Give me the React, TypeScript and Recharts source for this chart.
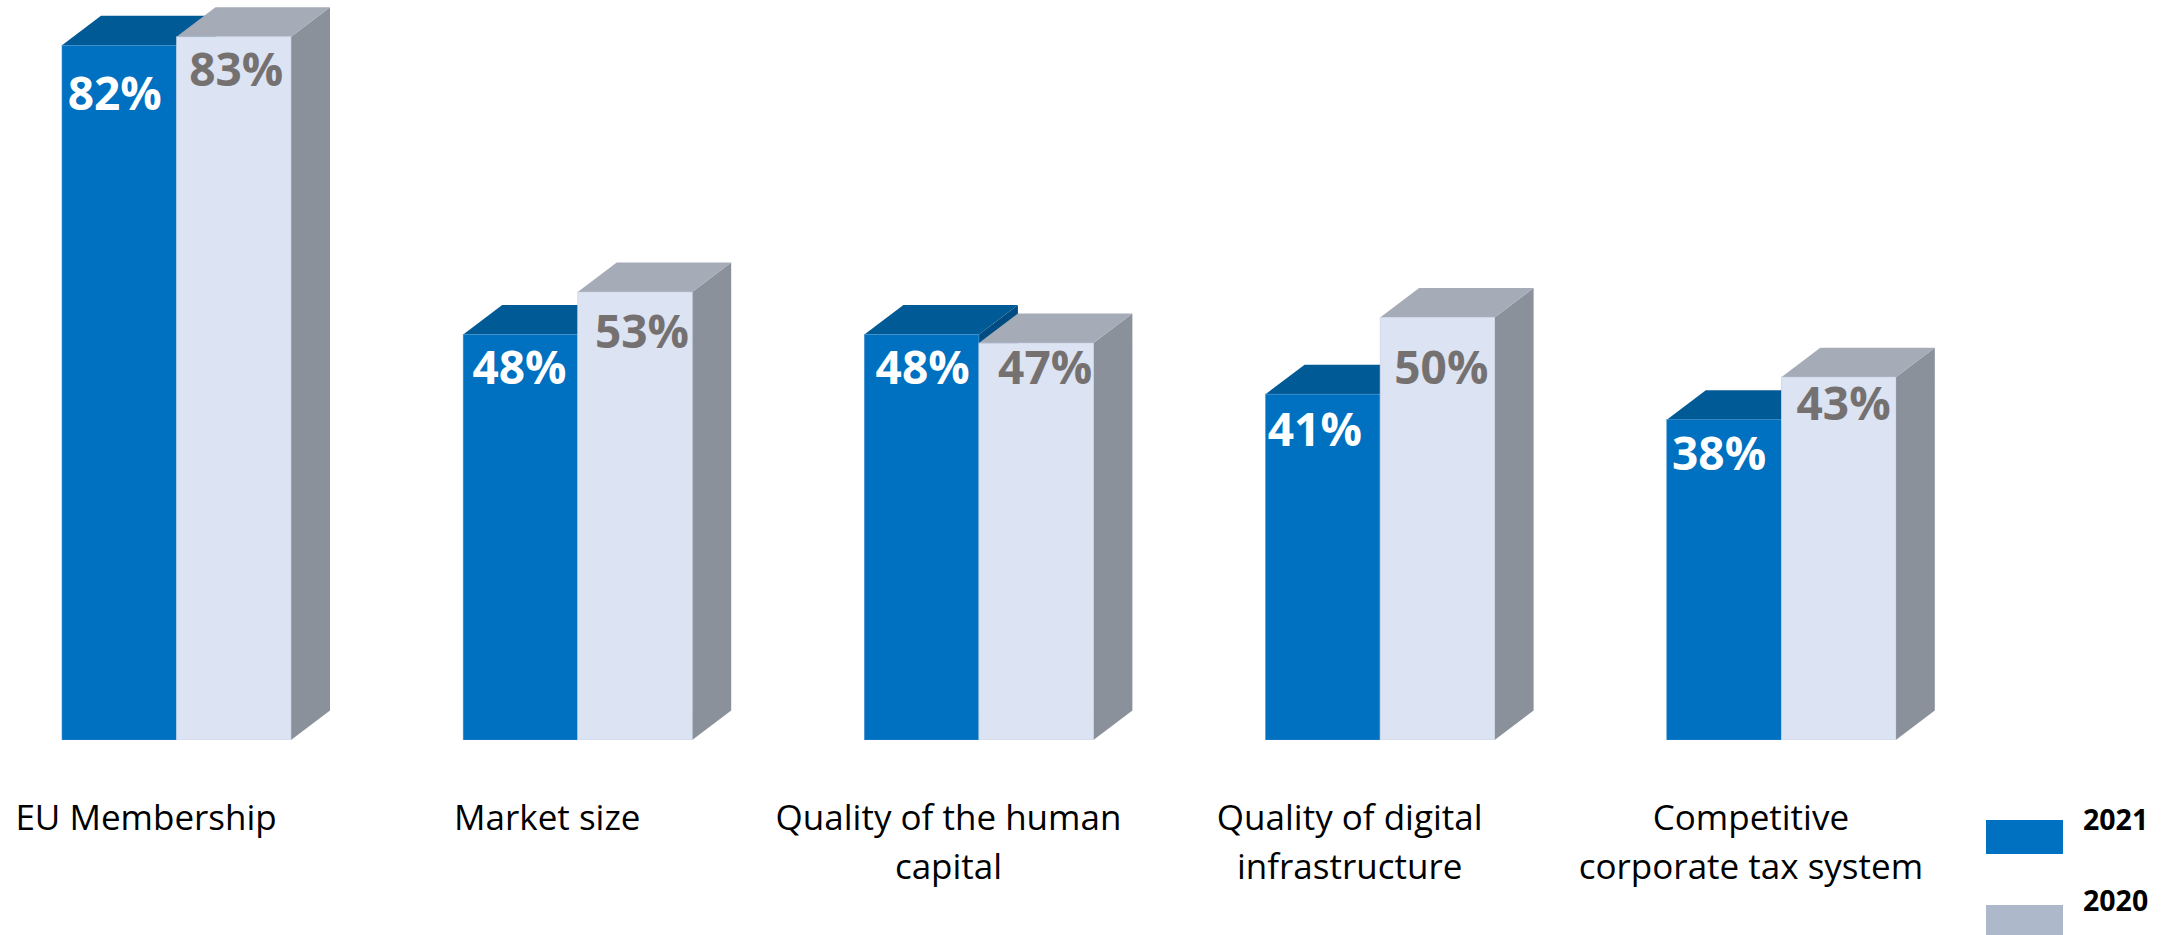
import React from "react";
import { BarChart, Bar, XAxis, YAxis, LabelList, Legend } from "recharts";

const categories = ["EU Membership", "Market size", "Quality of the human capital", "Quality of digital infrastructure", "Competitive corporate tax system"];
const tickLines: Record<string, string[]> = {
  "EU Membership": ["EU Membership"],
  "Market size": ["Market size"],
  "Quality of the human capital": ["Quality of the human", "capital"],
  "Quality of digital infrastructure": ["Quality of digital", "infrastructure"],
  "Competitive corporate tax system": ["Competitive", "corporate tax system"],
};
const values2021 = [82, 48, 48, 41, 38];
const values2020 = [83, 53, 47, 50, 43];
const legendYears = ["2021", "2020"];

// hand-placed label nudges seen in the reference [dx from bar centre, baseline below bar top]
const labelNudge2021 = [[-4.5, 64.5], [-1, 49.5], [1, 49.5], [-8, 52], [-5, 50.5]];
const labelNudge2020 = [[2.5, 49.5], [7, 56], [9, 40.5], [4, 66], [5, 43]];

const data = categories.map((name, i) => ({ name, y2021: values2021[i], y2020: values2020[i] }));

const FONT = "'Open Sans', sans-serif";
const DX = 39;
const DY = 29.5;
const BLUE = { front: "#0070C0", top: "#005A96", side: "#004C82", edge: "#3F8FCC" };
const PALE = { front: "#DCE3F2", top: "#A5ACB8", side: "#8A919B", edge: "#C9D2E4" };
const SWATCH = ["#0070C0", "#ADB9CA"];

function box(c: typeof BLUE) {
  return (p: any) => {
    const { x, y, width: w, height: h } = p;
    return (
      <g>
        <polygon points={`${x + w},${y} ${x + w + DX},${y - DY} ${x + w + DX},${y + h - DY} ${x + w},${y + h}`} fill={c.side} />
        <polygon points={`${x},${y} ${x + DX},${y - DY} ${x + w + DX},${y - DY} ${x + w},${y}`} fill={c.top} />
        <rect x={x} y={y} width={w} height={h} fill={c.front} stroke={c.edge} strokeWidth={0.6} />
      </g>
    );
  };
}

function valueLabel(color: string, nudge: number[][]) {
  return (p: any) => {
    const { x, y, width, value, index } = p;
    const [dx, dy] = nudge[index];
    return (
      <text x={x + width / 2 + dx} y={y + dy} textAnchor="middle" fill={color} fontFamily={FONT} fontWeight={700} fontSize={46}>
        {value}%
      </text>
    );
  };
}

function CategoryTick(p: any) {
  const { x, payload } = p;
  return (
    <text textAnchor="middle" fontFamily={FONT} fontSize={35} fill="#000">
      {tickLines[payload.value].map((line, i) => (
        <tspan key={line} x={x - 30.5} y={830 + i * 49}>{line}</tspan>
      ))}
    </text>
  );
}

function LegendBlock() {
  return (
    <svg width={200} height={135} style={{ display: "block", overflow: "visible" }}>
      {legendYears.map((year, i) => (
        <g key={year}>
          <rect x={0} y={i * 85} width={77} height={34} fill={SWATCH[i]} />
          <text x={97} y={i * 81 + 10} fontFamily={FONT} fontWeight={700} fontSize={28.5} fill="#000">{year}</text>
        </g>
      ))}
    </svg>
  );
}

export default function App() {
  return (
    <div style={{ position: "absolute", left: -40, top: 0, width: 2214, height: 935, overflow: "visible" }}>
      <BarChart
        width={2214}
        height={935}
        data={data}
        margin={{ top: 0, right: 192, bottom: 0, left: 16 }}
        barSize={114.5}
        barGap={0}
      >
        <XAxis dataKey="name" axisLine={false} tickLine={false} height={195} interval={0} tick={<CategoryTick />} />
        <YAxis hide domain={[0.35, 87.33]} allowDataOverflow />
        <Legend
          content={<LegendBlock />}
          wrapperStyle={{ position: "absolute", left: 2026, top: 820, width: 0, height: 0, bottom: "auto", right: "auto", overflow: "visible" }}
        />
        <Bar dataKey="y2021" isAnimationActive={false} shape={box(BLUE)}>
          <LabelList dataKey="y2021" content={valueLabel("#FFFFFF", labelNudge2021)} />
        </Bar>
        <Bar dataKey="y2020" isAnimationActive={false} shape={box(PALE)}>
          <LabelList dataKey="y2020" content={valueLabel("#767171", labelNudge2020)} />
        </Bar>
      </BarChart>
    </div>
  );
}
